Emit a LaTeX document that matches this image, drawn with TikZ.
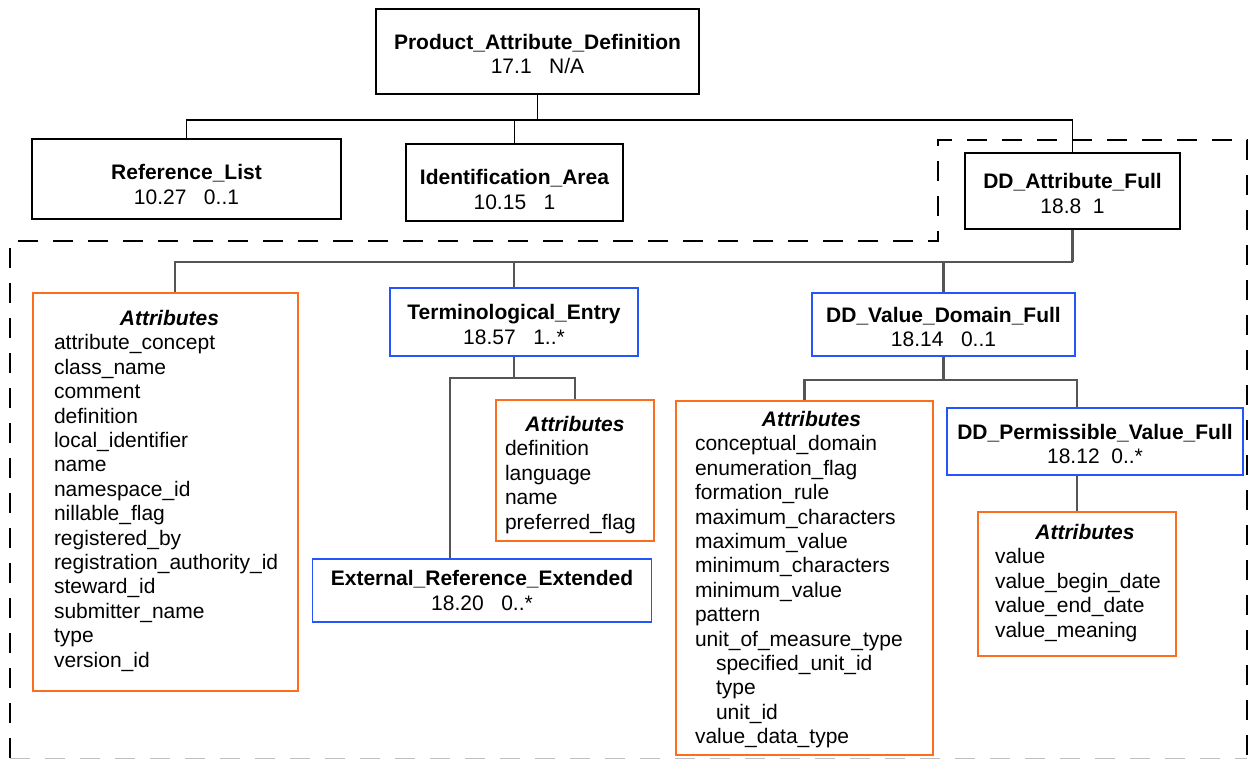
\documentclass[tikz,border=0pt]{standalone}
\usepackage{fontspec}
\setmainfont{Liberation Sans}
\usetikzlibrary{calc}
\definecolor{boxblue}{RGB}{35,85,250}
\definecolor{boxorange}{RGB}{250,110,30}
\definecolor{conngray}{RGB}{85,85,85}
\newcommand{\attrcontent}[6]{\parbox[t][#2][t]{#1}{\fontsize{21}{24.4}\selectfont\centering\rule{0pt}{#3}\hspace*{#4}\textbf{\textit{Attributes}}\par\raggedright\leftskip=#5\relax #6}}
\newcommand{\tstrut}{\rule{0pt}{20pt}}
\begin{document}
\begin{tikzpicture}[x=1pt,y=-1pt,
  every node/.style={font=\fontsize{21}{24.4}\selectfont, inner sep=0pt},
  classbox/.style={draw=black, line width=2pt, align=center},
  bluebox/.style={draw=boxblue, line width=1.6pt, align=center},
  attrbox/.style={draw=boxorange, line width=2pt, anchor=north west},
  upconn/.style={draw=black, line width=1.8pt},
  loconn/.style={draw=conngray, line width=2.2pt},
  outline/.style={draw=black, line width=1.8pt, dash pattern=on 20pt off 15pt}]
\useasboundingbox (0,0) rectangle (1250,759);

% class boxes
\node[classbox, minimum width=323pt, minimum height=85pt] (pad) at (537.5,51.5)
  {\tstrut\textbf{Product\_Attribute\_Definition}\\17.1\ \ \ N/A};
\node[classbox, minimum width=309pt, minimum height=80pt] (rl) at (186.5,179)
  {\rule{0pt}{26pt}\textbf{Reference\_List}\\10.27\ \ \ 0..1};
\node[classbox, minimum width=217pt, minimum height=77pt] (ia) at (514.5,182.5)
  {\rule{0pt}{29pt}\textbf{Identification\_Area}\\10.15\ \ \ 1};
\node[classbox, minimum width=215pt, minimum height=76pt] (daf) at (1072.5,191)
  {\tstrut\textbf{DD\_Attribute\_Full}\\18.8\ \ 1};

\node[bluebox, minimum width=248pt, minimum height=68pt] (te) at (514,322)
  {\tstrut\textbf{Terminological\_Entry}\\18.57\ \ \ 1..*};
\node[bluebox, minimum width=263pt, minimum height=63pt] (dvdf) at (943.5,324.5)
  {\tstrut\textbf{DD\_Value\_Domain\_Full}\\18.14\ \ \ 0..1};
\node[bluebox, minimum width=296pt, minimum height=67pt] (dpvf) at (1095,441.5)
  {\tstrut\textbf{DD\_Permissible\_Value\_Full}\\18.12\ \ 0..*};
\node[bluebox, minimum width=339pt, minimum height=63pt] (er) at (482,590.5)
  {\textbf{External\_Reference\_Extended}\\18.20\ \ \ 0..*};

% attribute boxes
\node[attrbox] (attra) at (32,292) {\attrcontent{265pt}{398pt}{32.5pt}{8pt}{21pt}{%
attribute\_concept\\class\_name\\comment\\definition\\local\_identifier\\name\\namespace\_id\\nillable\_flag\\registered\_by\\registration\_authority\_id\\steward\_id\\submitter\_name\\type\\version\_id}};
\node[attrbox] (teattr) at (495,399) {\attrcontent{158pt}{141pt}{31.5pt}{0pt}{9pt}{%
definition\\language\\name\\preferred\_flag}};
\node[attrbox] (dvdattr) at (675,400) {\attrcontent{257pt}{354pt}{25.5pt}{14pt}{19pt}{%
conceptual\_domain\\enumeration\_flag\\formation\_rule\\maximum\_characters\\maximum\_value\\minimum\_characters\\minimum\_value\\pattern\\unit\_of\_measure\_type\\\hspace*{21pt}specified\_unit\_id\\\hspace*{21pt}type\\\hspace*{21pt}unit\_id\\value\_data\_type}};
\node[attrbox] (dpvattr) at (977,511) {\attrcontent{198pt}{144pt}{27.5pt}{16pt}{17pt}{%
value\\value\_begin\_date\\value\_end\_date\\value\_meaning}};

% dashed outline
\draw[outline] (10,758) -- (10,241) -- (938,241) -- (938,140) -- (1247,140) -- (1247,758);
\draw[outline, draw=black!25] (10,758.5) -- (1247,758.5);

% upper connectors
\draw[upconn] (pad.south) -- (pad.south |- 0,120) coordinate (bus1);
\draw[upconn] (bus1) -| (rl.north);
\draw[upconn] (bus1) -| (ia.north);
\draw[upconn] (bus1) -| (daf.north);

% lower connectors
\draw[loconn] (daf.south) -- (daf.south |- 0,262) coordinate (bus2);
\draw[loconn] (bus2) -| ($(attra.north west)+(143,0)$);
\draw[loconn] (bus2) -| (te.north);
\draw[loconn] (bus2) -| (dvdf.north);

\draw[loconn] (te.south) -- ++(0,21) coordinate (bus3);
\draw[loconn] (bus3) -| (teattr.north);
\draw[loconn] (bus3) -| ($(er.north west)+(138,0)$);

\draw[loconn] (dvdf.south) -- ++(0,23) coordinate (bus4);
\draw[loconn] (bus4) -| (dvdattr.north);
\draw[loconn] (bus4) -| (dpvattr.north |- dpvf.north);
\draw[loconn] (dpvattr.north |- dpvf.south) -- (dpvattr.north);
\end{tikzpicture}
\end{document}
